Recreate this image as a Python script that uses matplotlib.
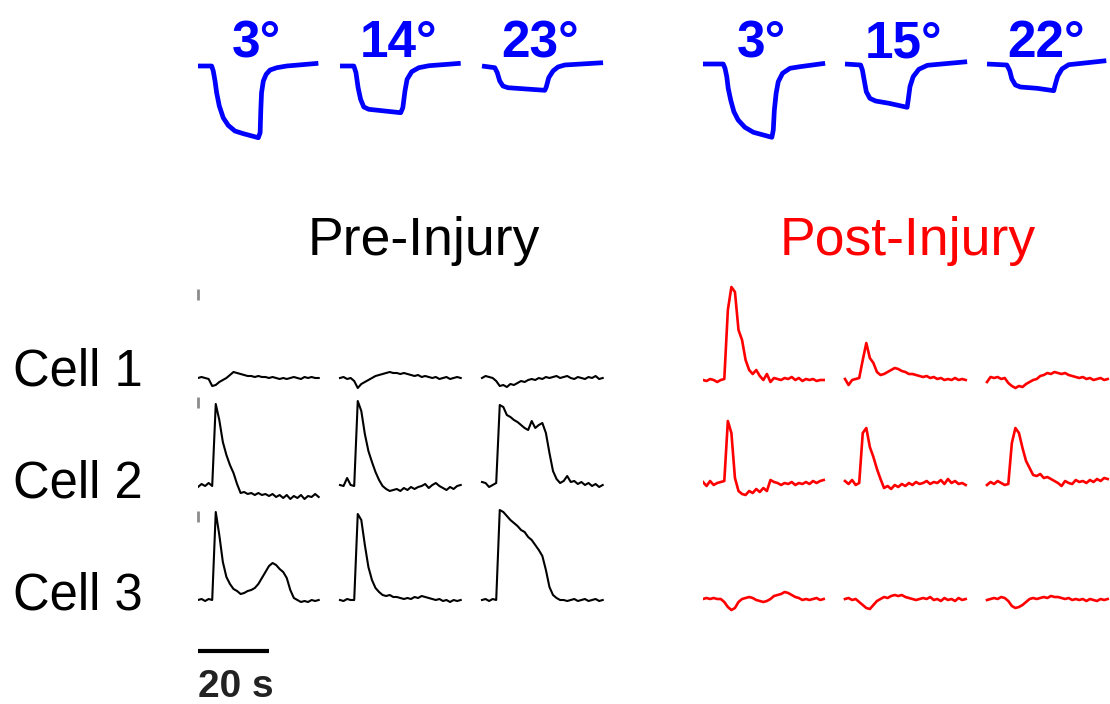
import numpy as np
import matplotlib
matplotlib.use("Agg")
import matplotlib.pyplot as plt

plt.rcParams['font.family'] = ['Liberation Sans', 'DejaVu Sans']

# --- stimulus angles -------------------------------------------------------
pre_angles = ["3°", "14°", "23°"]
post_angles = ["3°", "15°", "22°"]

# stage displacement (a.u.), sampled at knot times (s)
pre_stim_t = [
    [0, 3.85, 4.3, 4.8, 5.25, 6.0, 7.1, 8.5, 10.4, 12.8, 17.0, 17.5, 17.7, 17.9,
     18.4, 19.2, 20.3, 22.2, 25.0, 33.9],
    [0, 3.9, 4.5, 5.1, 5.8, 6.7, 8.1, 17.1, 17.7, 18.3, 18.9, 20.2, 22.2, 25.1, 34.0],
    [0, 3.6, 4.3, 5.0, 5.9, 7.3, 17.7, 18.1, 18.8, 20.0, 21.4, 23.3, 34.1],
]
pre_stim_y = [
    [0, 0, -5, -15, -26.7, -40, -51.7, -59.3, -65, -67.7, -71.7, -66.7, -43, -26.7,
     -15, -8.3, -4, -1.7, 0, 2.7],
    [0, 0, -6.7, -21.7, -33.3, -41, -43.3, -46.7, -41.7, -25, -13.3, -5.7, -1.7, 0.3, 2.7],
    [0, -1.7, -6.7, -15, -20, -21.7, -24.3, -21, -11.7, -5, -1, 1, 3.3],
]
post_stim_t = [
    [0, 5.7, 6.2, 6.7, 7.1, 7.8, 8.7, 9.9, 11.8, 14.2, 19.4, 19.8, 20.1, 20.6,
     21.2, 22.4, 24.5, 27.3, 34.4],
    [0, 4.4, 4.9, 5.4, 6.0, 7.0, 8.6, 12.4, 17.5, 17.8, 18.3, 19.2, 20.8, 23.2, 34.4],
    [0, 5.6, 6.4, 7.0, 8.0, 9.4, 14.1, 18.8, 19.2, 19.9, 21.1, 23.0, 33.6],
]
post_stim_y = [
    [0, 0, -4.3, -12.7, -24.3, -36, -47.7, -56, -63.3, -68.3, -73.3, -66, -46, -29.3,
     -17.7, -9.3, -4.3, -2.7, 0.7],
    [0, -1, -6, -16, -27.7, -34.3, -37, -39.3, -43.3, -36, -22.7, -12.7, -5.3, -1.3, 2.3],
    [0, -1, -6.7, -15, -21, -23, -24.3, -26.7, -21, -12.3, -5, -0.7, 3.3],
]

# --- calcium responses, dF/F (a.u.), one sample per second ------------------
pre_cell1 = [
    [0, 1, 0, -1, -8, -7, -4, -2, 0, 3, 6, 5, 4, 3, 2, 2, 1, 2, 1, 1, 0, 1, 0, -1, 0, -1, 0, 1, 0, -1, 1, 0, 1, 0, 0],
    [0, 1, -1, 0, -3, -10, -6, -4, -2, 0, 2, 3, 4, 5, 6, 5, 5, 4, 5, 4, 3, 2, 3, 1, 2, 1, 0, 1, -1, 0, 1, -1, 0, 1, 0],
    [0, 2, 1, 0, -3, -8, -7, -9, -6, -7, -5, -3, -4, -2, -1, -2, 0, -1, 1, 0, 1, 2, 0, 1, 2, 0, -1, 1, 0, -1, 1, 0, 2, -1, 0],
]
pre_cell2 = [
    [-1, 2, 0, 3, 0, 82, 66, 44, 31, 21, 13, 2, -7, -6, -8, -7, -9, -7, -9, -8, -10, -8, -11, -9, -12, -9, -13, -10, -12, -9, -13, -10, -11, -8, -11],
    [1, 0, 8, 1, 0, 85, 75, 52, 35, 24, 14, 6, 0, -3, -5, -4, -3, -5, -2, -4, -1, -3, -1, 0, 2, -2, 1, 3, 0, -2, -4, -1, -3, 0, 1],
    [4, 3, -1, 1, 3, 81, 79, 71, 69, 66, 64, 61, 58, 56, 65, 58, 61, 63, 53, 33, 15, 7, 3, 5, 10, 4, 5, 2, 4, 1, 3, 0, 2, -1, 1],
]
pre_cell3 = [
    [0, 1, -1, 1, 0, 88, 65, 38, 23, 16, 11, 9, 6, 7, 9, 10, 12, 16, 22, 28, 34, 37, 35, 31, 28, 22, 10, 2, 0, -2, -1, -2, 0, -1, 0],
    [0, -1, 1, 0, 0, 86, 80, 55, 33, 20, 12, 8, 5, 4, 5, 3, 3, 2, 1, 2, 1, 3, 2, 4, 3, 2, 1, 0, 1, -1, 0, -2, 0, -1, 0],
    [0, 1, -1, 1, 0, 90, 88, 84, 80, 77, 74, 70, 68, 63, 60, 55, 50, 44, 30, 13, 5, 2, 0, 0, -1, 0, 1, -1, 0, 1, -1, 0, 1, -1, 0],
]

post_cell1 = [
    [0, -1, 1, 0, -2, 0, 1, 70, 93, 88, 50, 40, 20, 10, 6, 10, 4, 0, 6, -2, 2, 1, 0, 2, 1, 3, 0, 2, -1, 1, 0, 1, -1, 0, 0],
    [1, -5, 0, 1, 2, 20, 37, 22, 17, 8, 5, 6, 8, 10, 12, 11, 9, 8, 6, 6, 5, 4, 3, 4, 2, 3, 1, 2, 0, 1, 0, 2, 0, 1, 0],
    [-2, 3, 2, 3, 1, 2, -3, -6, -8, -6, -7, -4, -2, 0, 1, 4, 5, 7, 6, 8, 7, 6, 7, 5, 4, 3, 2, 3, 1, 2, 0, 1, 2, 0, 1],
]
post_cell2 = [
    [1, -3, 2, -2, 0, 1, 2, 62, 50, 5, -8, -11, -12, -8, -10, -6, -9, -5, -8, 3, 1, 0, -2, 0, -1, 1, -2, 0, -1, 1, -1, 2, 0, 2, 3],
    [2, -1, 3, -2, 0, 50, 55, 36, 26, 14, 4, -5, -3, -6, -2, -4, -1, -3, 0, -2, 1, -1, 0, 2, -1, 1, 0, 3, -1, 4, 0, 2, -1, 0, -2],
    [-2, 1, -1, 2, 0, -2, -1, 40, 55, 50, 35, 22, 15, 8, 7, 9, 5, 6, 4, 2, 0, -3, 2, 0, -1, 3, 1, 2, 0, 3, 1, 4, 2, 5, 4],
]
post_cell3 = [
    [0, 1, 0, 1, 0, 0, -3, -8, -11, -9, -3, 0, 1, 2, 1, -1, -2, -3, -2, 0, 3, 4, 5, 7, 6, 4, 2, 1, -1, 0, -1, 0, 1, -1, 0],
    [0, 1, -1, 0, -3, -6, -9, -10, -6, -2, 0, 2, 1, 3, 4, 3, 4, 2, 1, 0, -1, 0, 1, 0, 2, -1, 0, -2, 1, -1, 0, -2, 1, -1, 0],
    [-1, 0, 1, 0, 2, 1, -2, -7, -9, -8, -6, -3, 0, 1, 0, 1, 2, 1, 3, 2, 2, 1, 0, 1, -1, 0, -1, 0, -2, 0, -1, -2, 0, -1, 0],
]

cell_names = ["Cell 1", "Cell 2", "Cell 3"]

# --- layout (figure pixels) ---------------------------------------------------
W, H = 1110, 704
PX_PER_S = 3.55
GAP = 40.0          # seconds between stimulus columns
SPAN = 120.0        # seconds shown per row axes
pre_x0, post_x0 = 198, 703
pre_base = [378, 486, 600]
post_base = [380, 483, 599]
cell_label_y = [386, 497, 609]


def px_axes(fig, left, top, right, bottom):
    ax = fig.add_axes([left / W, 1 - bottom / H, (right - left) / W, (bottom - top) / H])
    ax.set_xlim(0, (right - left) / PX_PER_S)
    ax.axis("off")
    return ax


fig = plt.figure(figsize=(W / 100, H / 100), dpi=100)

# stimulus traces along the top
for x0, base, ts, ys, labels in [(pre_x0, 66, pre_stim_t, pre_stim_y, pre_angles),
                                 (post_x0, 64, post_stim_t, post_stim_y, post_angles)]:
    ax = px_axes(fig, x0, base - 66, x0 + SPAN * PX_PER_S, base + 86)
    ax.set_ylim(-86, 66)
    for k, (t, y) in enumerate(zip(ts, ys)):
        ax.plot(np.array(t) + k * GAP, y, color="#0000ff", lw=3.4,
                solid_joinstyle="round", solid_capstyle="butt")
        ax.text(k * GAP + 16.5, base - 57, labels[k], color="#0000ff",
                fontsize=37, fontweight="bold", ha="center", va="baseline")

# condition titles
fig.text(424 / W, 1 - 255 / H, "Pre-Injury", fontsize=38.5, color="black",
         ha="center", va="baseline")
fig.text(908 / W, 1 - 255 / H, "Post-Injury", fontsize=38.5, color="#ff0000",
         ha="center", va="baseline")

for r in range(3):
    fig.text(13 / W, 1 - cell_label_y[r] / H, cell_names[r], fontsize=36.5,
             ha="left", va="baseline")

    # pre-injury row
    b = pre_base[r]
    ax = px_axes(fig, pre_x0, b - 110, pre_x0 + SPAN * PX_PER_S, b + 30)
    ax.set_ylim(-30, 110)
    for k, trace in enumerate([pre_cell1, pre_cell2, pre_cell3][r]):
        t = np.arange(len(trace)) + k * GAP
        ax.plot(t, trace, color="black", lw=1.5, solid_joinstyle="round")
    # vertical dF/F scale tick
    ax.plot([0, 0], [78, 89], color="#8c8c8c", lw=2.0, solid_capstyle="butt",
            clip_on=False)
    if r == 2:
        ax.plot([0, 20], [-51, -51], color="black", lw=3.0,
                solid_capstyle="butt", clip_on=False)
        ax.text(0, -97, "20 s", fontsize=28, fontweight="bold", color="#222222",
                ha="left", va="baseline", clip_on=False)

    # post-injury row
    b = post_base[r]
    ax = px_axes(fig, post_x0, b - 110, post_x0 + SPAN * PX_PER_S, b + 30)
    ax.set_ylim(-30, 110)
    for k, trace in enumerate([post_cell1, post_cell2, post_cell3][r]):
        t = np.arange(len(trace)) + k * GAP
        ax.plot(t, trace, color="#ff0000", lw=1.9, solid_joinstyle="round")

fig.savefig("out.png", dpi=100)
